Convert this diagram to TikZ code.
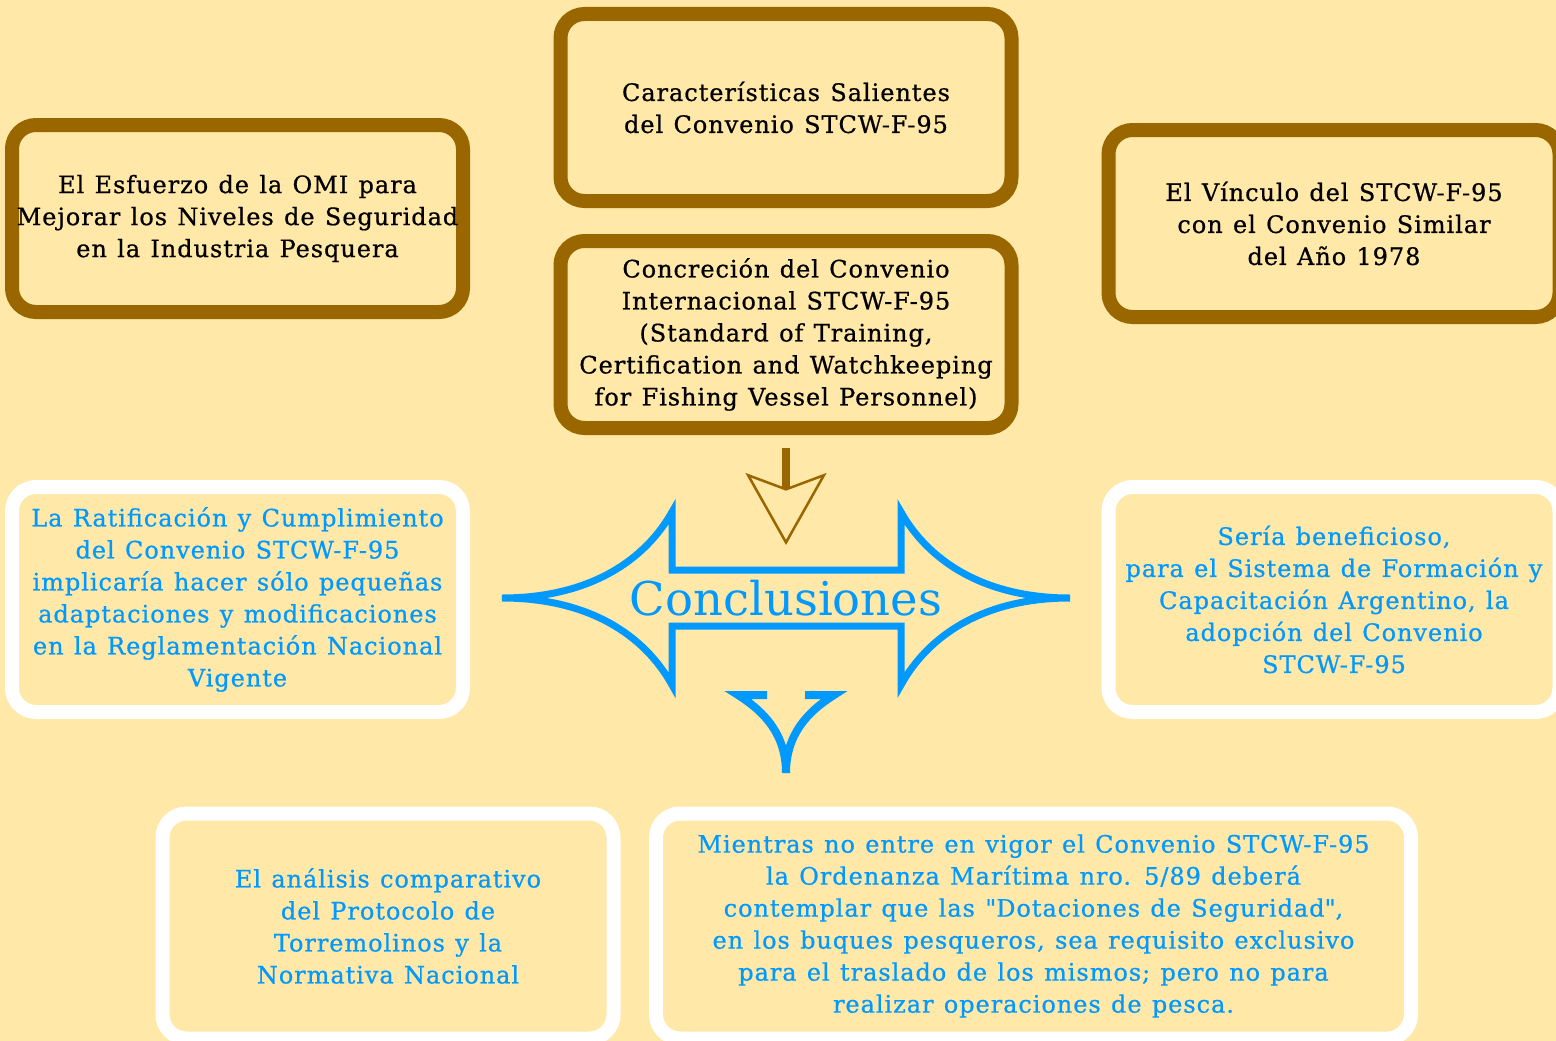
\documentclass[tikz,border=0pt]{standalone}
\usepackage{fontspec}
\setmainfont{DejaVu Serif}
\newfontfamily\cuerpo{DejaVu Serif}[LetterSpace=4,WordSpace=1.2,FakeBold=0.7]
\usepackage{xcolor}
\usepackage{tikz}
\usetikzlibrary{positioning,arrows.meta}
\definecolor{fondo}{HTML}{FFE8A8}
\definecolor{cafe}{HTML}{996600}
\definecolor{celeste}{HTML}{0099FF}
\tikzset{
caja/.style={draw=cafe, line width=14pt, rounded corners=24pt, minimum width=451pt,
  minimum height=187pt, inner sep=0pt, align=center, font=\cuerpo\fontsize{24}{32}\selectfont},
cajab/.style={caja, draw=white, text=celeste, minimum height=225pt},
flecha/.style={celeste, line width=8pt}
}

\begin{document}
\begin{tikzpicture}[x=1pt,y=-1pt]
\useasboundingbox (0,0) rectangle (1556,1041);
\fill [fondo] (0,0) rectangle (1556,1041);

\node [caja] (esfuerzo) at (237.5,218.5) {El Esfuerzo de la OMI para\\Mejorar los Niveles de Seguridad\\en la Industria Pesquera};
\node [caja] (salientes) at (786,107.5) {Características Salientes\\del Convenio STCW-F-95};
\node [caja] (concrecion) at (786,334.5) {Concreción del Convenio\\Internacional STCW-F-95\\(Standard of Training,\\Certification and Watchkeeping\\for Fishing Vessel Personnel)};
\node [caja] (vinculo) at (1334,223.5) {El Vínculo del STCW-F-95\\con el Convenio Similar\\del Año 1978};

\node [cajab] (ratificacion) at (237.5,599.5) {La Ratificación y Cumplimiento\\del Convenio STCW-F-95\\implicaría hacer sólo pequeñas\\adaptaciones y modificaciones\\en la Reglamentación Nacional\\Vigente};
\node [cajab] (beneficioso) at (1334,599.5) {Sería beneficioso,\\para el Sistema de Formación y\\Capacitación Argentino, la\\adopción del Convenio\\STCW-F-95};
\node [cajab] (analisis) at (388,926) {El análisis comparativo\\del Protocolo de\\Torremolinos y la\\Normativa Nacional};
\node [cajab, minimum width=755pt] (mientras) at (1033.5,926) {Mientras no entre en vigor el Convenio STCW-F-95\\la Ordenanza Marítima nro. 5/89 deberá\\contemplar que las \textquotedbl Dotaciones de Seguridad\textquotedbl,\\en los buques pesqueros, sea requisito exclusivo\\para el traslado de los mismos; pero no para\\realizar operaciones de pesca.};

\draw [celeste, line width=7pt] (502,598) .. controls (590,598) and (645,560) .. (672,512) -- (672,570) -- (901,570) -- (901,512)
.. controls (928,560) and (983,598) .. (1070,598) .. controls (983,598) and (928,636) .. (901,685) -- (901,626) -- (672,626) -- (672,685)
.. controls (645,636) and (590,598) .. cycle;
\node [text=celeste, font=\fontsize{46.5}{50}\selectfont, anchor=base] (conclusiones) at (786,615) {Conclusiones};

\coordinate (punta) at (786,545);
\draw [cafe, line width=8pt, shorten <=13pt, -{Stealth[open, length=72pt, width=81pt, inset=15pt, line width=2.5pt]}] (concrecion.south) -- (punta);

\draw [flecha] (767,695) -- (738,695) .. controls (765,712) and (786,735) .. (786,773);
\draw [flecha] (805,695) -- (834,695) .. controls (807,712) and (786,735) .. (786,773);

\end{tikzpicture}
\end{document}
